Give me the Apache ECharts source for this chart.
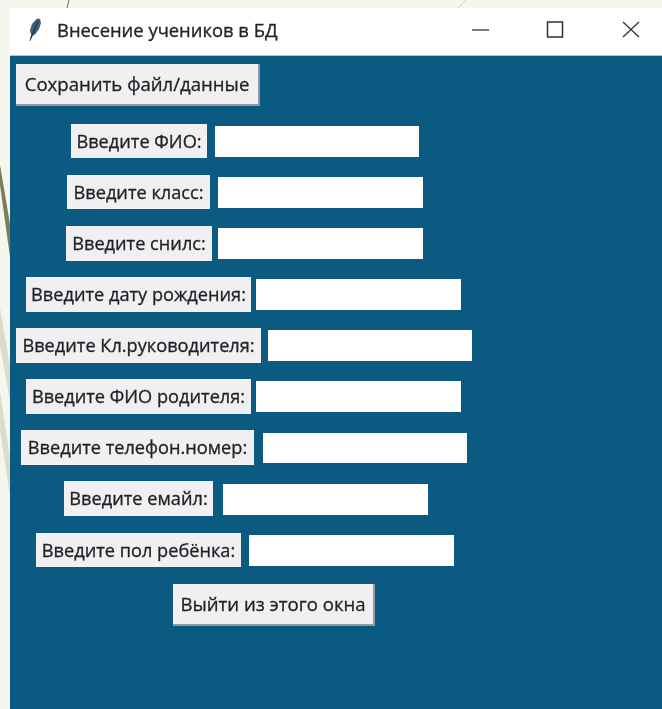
<!DOCTYPE html>
<html><head><meta charset="utf-8">
<style>html,body{margin:0;padding:0;background:#f5f6ed}#c{width:662px;height:709px}</style>
<script src="https://cdn.jsdelivr.net/npm/echarts@6/dist/echarts.min.js"></script>
</head><body><div id="c"></div>
<script>
const windowTitle = "Внесение учеников в БД";
const saveLabel = "Сохранить файл/данные";
const exitLabel = "Выйти из этого окна";
const fieldLabels = ["Введите ФИО:","Введите класс:","Введите снилс:","Введите дату рождения:","Введите Кл.руководителя:","Введите ФИО родителя:","Введите телефон.номер:","Введите емайл:","Введите пол ребёнка:"];
const labelBoxes = [[71,124,136,34],[67,175,143,34],[66,226,146,35],[26,277,225,35],[16,328,245,35],[26,379,225,35],[21,430,233,35],[64,481,149,35],[36,533,205,34]];
const entryBoxes = [[215,126,204,31],[218,177,205,31],[218,228,205,31],[256,279,205,31],[268,330,204,31],[256,381,205,31],[263,433,204,30],[223,484,205,31],[249,535,205,31]];

const FONT = '"Open Sans","Noto Sans",sans-serif';
const FS = 18.2;
const g = [];
function poly(points, fill){ g.push({type:'polygon',shape:{points},style:{fill}}); }
function rect(b, fill, extra){ g.push({type:'rect',shape:{x:b[0],y:b[1],width:b[2],height:b[3]},style:Object.assign({fill},extra||{})}); }
function text(t,x,y,o){ g.push({type:'text',x,y,style:Object.assign({text:t,fill:'#1f1f24',stroke:'#1f1f24',lineWidth:0.3,font:FS+'px '+FONT,align:'center',verticalAlign:'middle'},o||{})}); }

// slide backdrop decorations
poly([[0,165],[10,224],[10,257],[0,185]],'#7f7a5a');
poly([[0,308],[10,366],[10,402],[0,345]],'#dcdccd');
poly([[0,392],[10,458],[10,496],[0,430]],'#dcdccd');
g.push({type:'line',shape:{x1:69,y1:0,x2:67,y2:8},style:{stroke:'#6f6a50',lineWidth:1}});
g.push({type:'line',shape:{x1:466,y1:0,x2:458,y2:8},style:{stroke:'#d8d8c8',lineWidth:1}});

// window
rect([10,8,652,47],'#ffffff');
rect([10,55,652,1],'#a9c9d6');
rect([10,56,652,653],'#0b5a82');

// title bar
poly([[37,18.5],[40,19],[41,23],[39,29],[35.5,34],[32.5,36],[30.5,41],[29.5,40.5],[31,35],[30,30],[32,24]],'#3d5f7a');
g.push({type:'line',shape:{x1:38,y1:21,x2:31,y2:38},style:{stroke:'#1d2c38',lineWidth:1}});
text(windowTitle,57,31.5,{align:'left',font:'18.4px '+FONT,fill:'#222',stroke:'#222'});
g.push({type:'line',shape:{x1:472,y1:30,x2:489,y2:30},style:{stroke:'#333',lineWidth:1.3}});
g.push({type:'rect',shape:{x:547.5,y:22,width:15,height:15},style:{fill:'none',stroke:'#333',lineWidth:1.5}});
g.push({type:'line',shape:{x1:623,y1:22,x2:639,y2:37},style:{stroke:'#333',lineWidth:1.3}});
g.push({type:'line',shape:{x1:639,y1:22,x2:623,y2:37},style:{stroke:'#333',lineWidth:1.3}});

function button(b,t){
  rect([b[0],b[1],b[2],b[3]],'#8f9aa2');
  rect([b[0],b[1],b[2]-2,b[3]-2],'#f0f0f2');
  text(t,b[0]+b[2]/2-1,b[1]+b[3]/2+1,{font:'18.6px '+FONT});
}
button([16,64,244,42],saveLabel);
button([173,584,202,42],exitLabel);

fieldLabels.forEach((t,i)=>{
  const b=labelBoxes[i], e=entryBoxes[i];
  rect(b,'#f0f0f2');
  text(t,b[0]+b[2]/2,b[1]+b[3]/2+1.5);
  rect([e[0],e[1],e[2],e[3]],'#ffffff');
});

const chart = echarts.init(document.getElementById('c'),null,{renderer:'canvas'});
chart.setOption({animation:false,backgroundColor:'#f5f6ed',graphic:{elements:g}});
</script></body></html>
